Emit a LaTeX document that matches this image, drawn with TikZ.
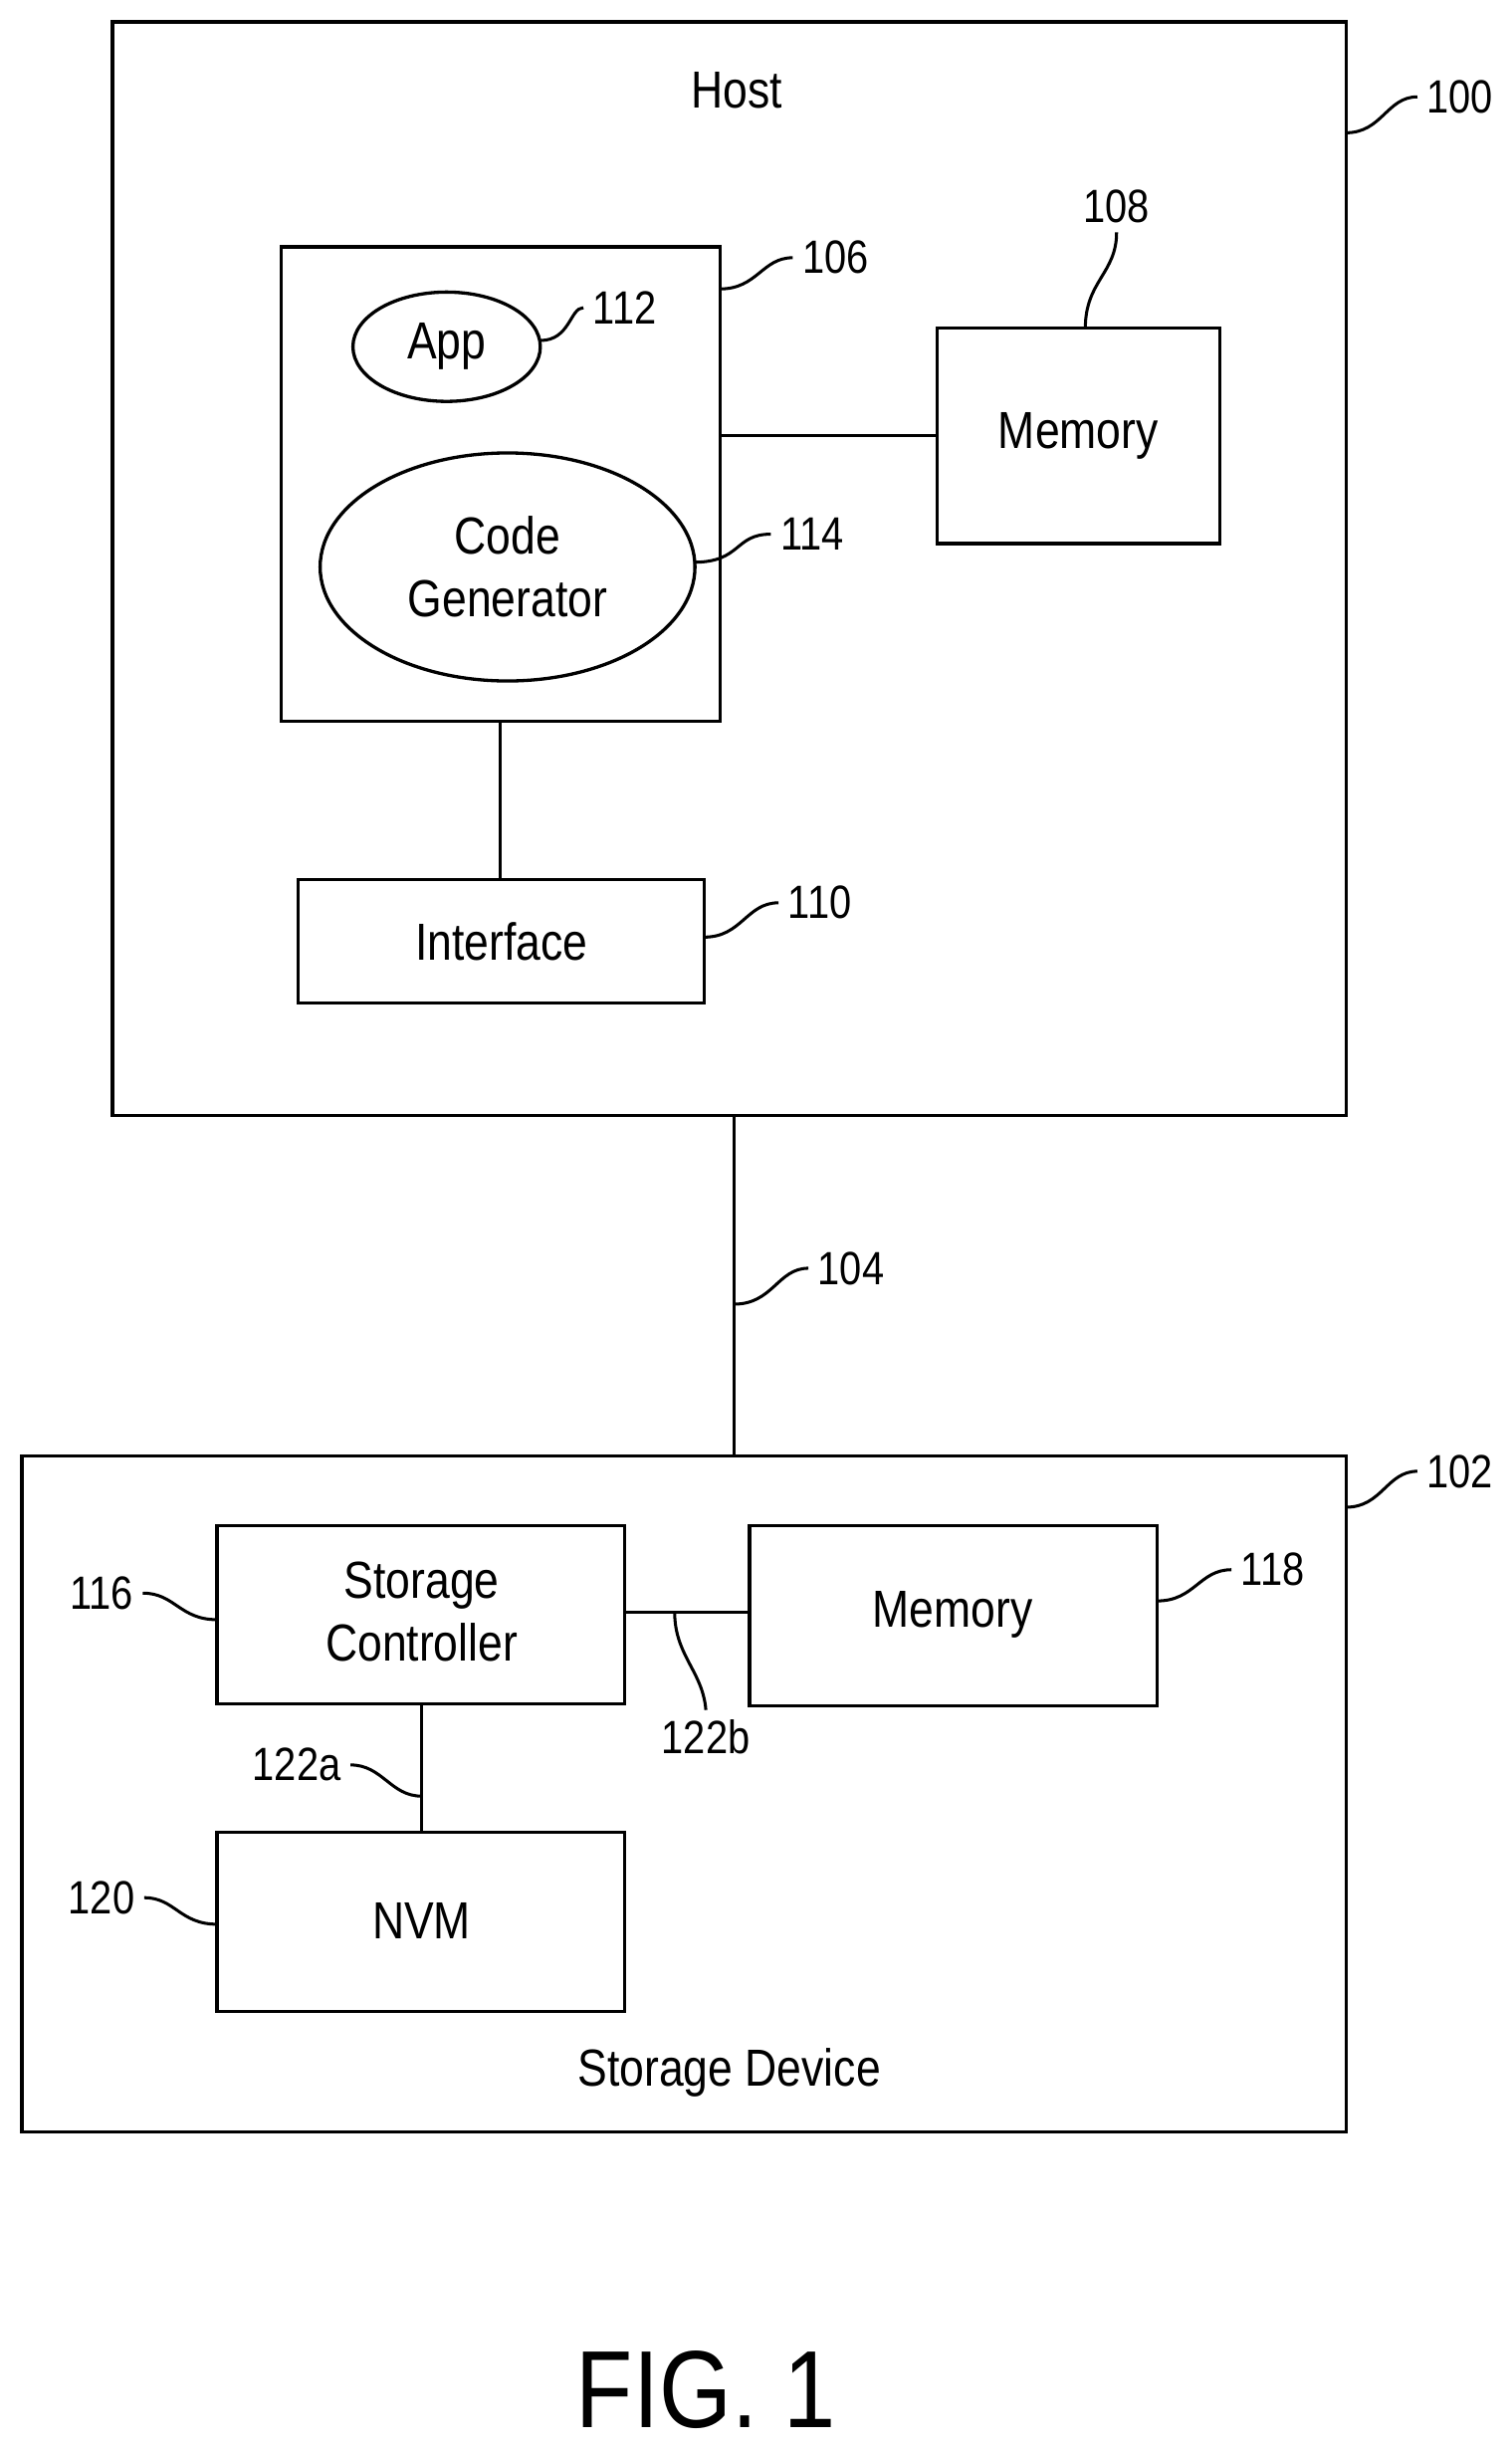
\documentclass[tikz,border=0pt]{standalone}
\usepackage{fontspec}
\setmainfont{Liberation Sans}[FakeStretch=0.85]
\begin{document}
\begin{tikzpicture}[x=0.02cm,y=-0.02cm,
  box/.style={draw,line width=1.2pt},
  ell/.style={draw,line width=1.2pt},
  lbl/.style={font=\fontsize{17}{20}\selectfont},
  txt/.style={font=\fontsize{19}{23}\selectfont,align=center},
  ld/.style={line width=1.1pt}]
\useasboundingbox (0,0) rectangle (968,1568);
% host
\draw[box] (72,14) rectangle (862,714);
\node[txt] (host) at (472,58) {Host};
\node[lbl] (l100) at (935,62) {100};
\draw[ld] (862,85) .. controls (885,85) and (888,62) .. (l100.west);
% 106
\draw[box] (180,158) rectangle (461,462);
\coordinate (b106r) at (461,279);
\node[lbl] (l106) at (535,165) {106};
\draw[ld] (461,185) .. controls (485,185) and (488,165) .. (l106.west);
\draw[ell] (286,222) ellipse (60 and 35);
\node[txt] (app) at (286,222) {App};
\node[lbl] (l112) at (400,197) {112};
\draw[ld] (346,218) .. controls (365,218) and (365,197) .. (l112.west);
\draw[ell] (325,363) ellipse (120 and 73);
\node[txt] (cg) at (325,363) {Code\\Generator};
\node[lbl] (l114) at (520,342) {114};
\draw[ld] (444,360) .. controls (475,360) and (470,342) .. (l114.west);
\draw[box] (600,210) rectangle (781,348);
\node[txt] (memt) at (690.5,279) {Memory};
\node[lbl] (l108) at (715,132) {108};
\draw[ld] (695,210) .. controls (695,180) and (715,175) .. (l108.south);
\draw[ld] (b106r) -- (600,279);
% interface
\draw[box] (191,563) rectangle (451,642);
\node[txt] (intf) at (321,603) {Interface};
\node[lbl] (l110) at (525,578) {110};
\draw[ld] (451,600) .. controls (475,600) and (478,578) .. (l110.west);
\draw[ld] (320,462) -- (320,563);
% link
\draw[ld] (470,714) -- (470,932);
\node[lbl] (l104) at (545,812) {104};
\draw[ld] (470,835) .. controls (495,835) and (498,812) .. (l104.west);
% storage
\draw[box] (14,932) rectangle (862,1365);
\node[lbl] (l102) at (935,942) {102};
\draw[ld] (862,965) .. controls (885,965) and (888,942) .. (l102.west);
\node[txt] (sd) at (467,1327) {Storage Device};
\draw[box] (139,977) rectangle (400,1091);
\node[txt] (sc) at (270,1032) {Storage\\Controller};
\node[lbl] (l116) at (65,1020) {116};
\draw[ld] (l116.east) .. controls (112,1020) and (115,1037) .. (139,1037);
\draw[box] (480,977) rectangle (741,1092);
\node[txt] (m2) at (610,1034) {Memory};
\node[lbl] (l118) at (815,1005) {118};
\draw[ld] (741,1025) .. controls (765,1025) and (768,1005) .. (l118.west);
\draw[ld] (400,1032) -- (480,1032);
\node[lbl] (l122b) at (452,1112) {122b};
\draw[ld] (432,1032) .. controls (432,1060) and (450,1070) .. (l122b.north);
\draw[box] (139,1173) rectangle (400,1288);
\node[txt] (nvm) at (270,1230) {NVM};
\node[lbl] (l120) at (65,1215) {120};
\draw[ld] (l120.east) .. controls (112,1215) and (115,1232) .. (139,1232);
\draw[ld] (270,1091) -- (270,1173);
\node[lbl] (l122a) at (190,1130) {122a};
\draw[ld] (l122a.east) .. controls (245,1130) and (250,1150) .. (270,1150);
\node[font=\fontsize{40}{48}\selectfont] (fig) at (452,1530) {FIG. 1};
\end{tikzpicture}
\end{document}
